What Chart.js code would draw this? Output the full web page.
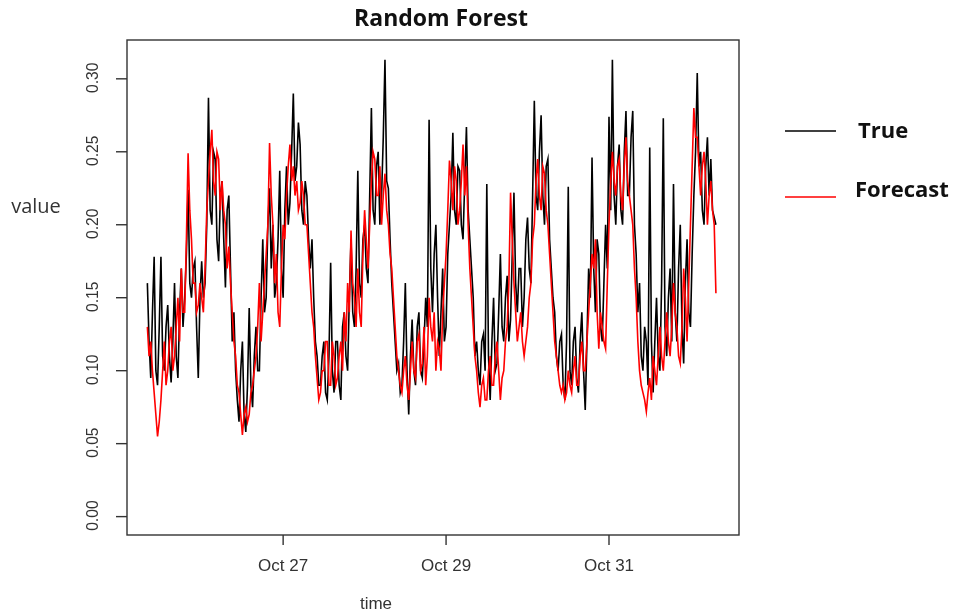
<!DOCTYPE html>
<html>
<head>
<meta charset="utf-8">
<script src="https://cdn.jsdelivr.net/npm/chart.js@4/dist/chart.umd.min.js"></script>
<style>
html,body{margin:0;padding:0;background:#fff;}
#wrap{width:957px;height:613px;position:relative;}
</style>
</head>
<body>
<div id="wrap"><canvas id="c" width="957" height="613"></canvas></div>
<script>
// readings every half hour, starting Oct 25 08:00 (x = hours since start)
const trueValues = [
0.16,0.12, 0.095,0.14, 0.178,0.10, 0.09,0.13, 0.178,0.11, 0.10,0.13, 0.145,0.11, 0.092,0.12, 0.16,0.11, 0.095,0.14,
0.17,0.13, 0.15,0.18, 0.224,0.16, 0.15,0.17, 0.175,0.13, 0.095,0.15, 0.175,0.15, 0.16,0.20, 0.287,0.21, 0.20,0.25,
0.245,0.19, 0.175,0.22, 0.23,0.19, 0.157,0.21, 0.22,0.17, 0.12,0.14, 0.10,0.08, 0.065,0.10, 0.12,0.07, 0.058,0.09,
0.143,0.09, 0.075,0.11, 0.13,0.10, 0.10,0.15, 0.19,0.14, 0.15,0.20, 0.225,0.17, 0.20,0.15, 0.16,0.19, 0.237,0.17,
0.15,0.21, 0.24,0.20, 0.215,0.25, 0.29,0.23, 0.24,0.27, 0.255,0.21, 0.20,0.23, 0.22,0.19, 0.17,0.19, 0.15,0.12,
0.11,0.09, 0.09,0.11, 0.12,0.085, 0.08,0.11, 0.174,0.10, 0.085,0.12, 0.12,0.09, 0.08,0.13, 0.14,0.11, 0.10,0.15,
0.19,0.14, 0.13,0.17, 0.237,0.16, 0.15,0.19, 0.20,0.17, 0.16,0.22, 0.28,0.21, 0.20,0.24, 0.25,0.20, 0.22,0.26,
0.313,0.23, 0.225,0.19, 0.16,0.14, 0.12,0.10, 0.105,0.085, 0.09,0.12, 0.16,0.10, 0.07,0.11, 0.135,0.10, 0.09,0.13,
0.14,0.10, 0.095,0.12, 0.15,0.13, 0.272,0.17, 0.14,0.18, 0.20,0.15, 0.11,0.14, 0.17,0.12, 0.13,0.18, 0.20,0.22,
0.263,0.21, 0.20,0.24, 0.237,0.20, 0.19,0.23, 0.267,0.21, 0.19,0.17, 0.15,0.11, 0.12,0.10, 0.09,0.12, 0.125,0.10,
0.228,0.11, 0.08,0.12, 0.15,0.10, 0.105,0.14, 0.18,0.13, 0.12,0.15, 0.165,0.12, 0.135,0.18, 0.222,0.16, 0.14,0.17,
0.17,0.13, 0.15,0.19, 0.205,0.17, 0.16,0.22, 0.285,0.22, 0.21,0.25, 0.275,0.22, 0.20,0.24, 0.245,0.19, 0.17,0.15,
0.14,0.11, 0.10,0.12, 0.125,0.09, 0.08,0.12, 0.226,0.10, 0.09,0.12, 0.13,0.095, 0.085,0.12, 0.14,0.10, 0.073,0.12,
0.17,0.15, 0.246,0.17, 0.14,0.19, 0.18,0.13, 0.12,0.16, 0.20,0.17, 0.274,0.21, 0.313,0.22, 0.20,0.24, 0.255,0.21,
0.20,0.25, 0.278,0.22, 0.22,0.26, 0.278,0.20, 0.18,0.14, 0.16,0.11, 0.10,0.13, 0.12,0.09, 0.253,0.12, 0.085,0.12,
0.15,0.11, 0.10,0.16, 0.273,0.13, 0.11,0.15, 0.17,0.12, 0.228,0.14, 0.12,0.17, 0.20,0.13, 0.105,0.16, 0.19,0.14,
0.13,0.18, 0.22,0.25, 0.304,0.24, 0.25,0.21, 0.20,0.24, 0.26,0.22, 0.245,0.21, 0.205,0.20
];
const forecastValues = [
0.13,0.11, 0.12,0.10, 0.085,0.07, 0.055,0.065, 0.08,0.10, 0.12,0.09, 0.10,0.12, 0.13,0.10, 0.11,0.13, 0.15,0.12,
0.17,0.14, 0.14,0.19, 0.249,0.21, 0.19,0.16, 0.16,0.14, 0.145,0.16, 0.15,0.14, 0.17,0.21, 0.23,0.25, 0.265,0.23,
0.22,0.25, 0.245,0.21, 0.23,0.21, 0.20,0.17, 0.185,0.16, 0.14,0.12, 0.11,0.09, 0.085,0.07, 0.056,0.07, 0.075,0.065,
0.07,0.085, 0.09,0.10, 0.11,0.13, 0.16,0.12, 0.14,0.16, 0.18,0.20, 0.256,0.22, 0.20,0.16, 0.18,0.14, 0.13,0.17,
0.20,0.19, 0.22,0.24, 0.255,0.23, 0.24,0.22, 0.23,0.21, 0.215,0.23, 0.22,0.20, 0.20,0.18, 0.16,0.14, 0.13,0.11,
0.095,0.08, 0.085,0.10, 0.10,0.12, 0.12,0.09, 0.09,0.12, 0.11,0.09, 0.095,0.11, 0.12,0.10, 0.14,0.12, 0.16,0.14,
0.196,0.16, 0.15,0.13, 0.17,0.14, 0.13,0.18, 0.21,0.19, 0.17,0.20, 0.23,0.25, 0.245,0.22, 0.22,0.24, 0.20,0.22,
0.235,0.21, 0.20,0.18, 0.17,0.15, 0.13,0.11, 0.10,0.09, 0.085,0.10, 0.11,0.09, 0.08,0.10, 0.12,0.10, 0.095,0.12,
0.125,0.10, 0.105,0.13, 0.09,0.11, 0.15,0.13, 0.12,0.14, 0.10,0.12, 0.115,0.10, 0.14,0.16, 0.18,0.21, 0.244,0.23,
0.21,0.24, 0.23,0.20, 0.21,0.23, 0.255,0.22, 0.24,0.20, 0.17,0.15, 0.13,0.11, 0.10,0.085, 0.075,0.09, 0.095,0.08,
0.08,0.10, 0.11,0.09, 0.09,0.11, 0.12,0.10, 0.08,0.095, 0.10,0.12, 0.13,0.16, 0.222,0.19, 0.16,0.14, 0.12,0.13,
0.14,0.12, 0.11,0.12, 0.13,0.15, 0.16,0.19, 0.20,0.23, 0.245,0.22, 0.21,0.24, 0.235,0.21, 0.20,0.18, 0.16,0.14,
0.12,0.11, 0.10,0.09, 0.085,0.09, 0.08,0.085, 0.10,0.09, 0.085,0.10, 0.11,0.09, 0.09,0.11, 0.12,0.10, 0.10,0.12,
0.14,0.16, 0.18,0.17, 0.19,0.14, 0.115,0.14, 0.13,0.12, 0.115,0.16, 0.20,0.23, 0.25,0.23, 0.22,0.24, 0.245,0.22,
0.21,0.24, 0.26,0.23, 0.22,0.21, 0.20,0.17, 0.15,0.12, 0.10,0.09, 0.085,0.08, 0.072,0.085, 0.095,0.08, 0.11,0.10,
0.09,0.11, 0.13,0.11, 0.10,0.12, 0.14,0.12, 0.11,0.13, 0.16,0.14, 0.13,0.11, 0.105,0.13, 0.17,0.15, 0.12,0.16,
0.20,0.24, 0.28,0.26, 0.26,0.24, 0.22,0.24, 0.25,0.23, 0.20,0.22, 0.23,0.21, 0.20,0.153
];
const stepHours = 0.5;
const yTickValues = [0, 0.05, 0.10, 0.15, 0.20, 0.25, 0.30];
const xTickHours = [40, 88, 136];
const xTickLabels = ['Oct 27', 'Oct 29', 'Oct 31'];
const seriesNames = ['True', 'Forecast'];
const seriesColors = ['#000000', '#ff0000'];

const mk = (vals) => vals.map((v, i) => ({x: i * stepHours, y: v}));

const decor = {
  id: 'decor',
  afterDraw(chart) {
    const ctx = chart.ctx, a = chart.chartArea;
    const xs = chart.scales.x, ys = chart.scales.y;
    ctx.save();
    ctx.strokeStyle = '#333';
    ctx.lineWidth = 1.4;
    ctx.strokeRect(a.left, a.top, a.right - a.left, a.bottom - a.top);
    // y ticks
    ctx.fillStyle = '#333';
    ctx.font = '17px "Liberation Sans", Arial, sans-serif';
    yTickValues.forEach(v => {
      const py = ys.getPixelForValue(v);
      ctx.beginPath(); ctx.moveTo(a.left - 11, py); ctx.lineTo(a.left, py); ctx.stroke();
      ctx.save();
      ctx.translate(a.left - 29, py - 1);
      ctx.rotate(-Math.PI / 2);
      ctx.scale(0.92, 1);
      ctx.textAlign = 'center'; ctx.textBaseline = 'alphabetic';
      ctx.fillText(v.toFixed(2), 0, 0);
      ctx.restore();
    });
    // x ticks
    ctx.textAlign = 'center'; ctx.textBaseline = 'middle';
    xTickHours.forEach((h, i) => {
      const px = xs.getPixelForValue(h);
      ctx.beginPath(); ctx.moveTo(px, a.bottom); ctx.lineTo(px, a.bottom + 10); ctx.stroke();
      ctx.fillText(xTickLabels[i], px, 566);
    });
    ctx.fillText('time', 376, 604);
    ctx.font = '20px "Open Sans", sans-serif';
    ctx.fillText('value', 36, 207);
    // title
    ctx.fillStyle = '#111';
    ctx.font = 'bold 23px "Open Sans", sans-serif';
    ctx.fillText('Random Forest', 441, 19);
    // legend
    const ly = [131, 197];
    const ty = [132, 191];
    seriesNames.forEach((n, i) => {
      ctx.strokeStyle = seriesColors[i];
      ctx.lineWidth = 1.4;
      ctx.beginPath(); ctx.moveTo(785, ly[i]); ctx.lineTo(836, ly[i]); ctx.stroke();
      ctx.fillStyle = '#111';
      ctx.textAlign = 'left';
      ctx.font = 'bold 22px "Open Sans", sans-serif';
      ctx.fillText(n, i === 0 ? 858 : 855, ty[i]);
    });
    ctx.restore();
  }
};

new Chart(document.getElementById('c'), {
  type: 'line',
  data: {
    datasets: [
      {label: seriesNames[0], data: mk(trueValues), borderColor: seriesColors[0], borderWidth: 1.6, pointRadius: 0, tension: 0, order: 1},
      {label: seriesNames[1], data: mk(forecastValues), borderColor: seriesColors[1], borderWidth: 1.6, pointRadius: 0, tension: 0, order: 0}
    ]
  },
  options: {
    responsive: false,
    animation: false,
    layout: {padding: {left: 127, top: 40, right: 218, bottom: 78}},
    plugins: {legend: {display: false}, tooltip: {enabled: false}, title: {display: false}},
    scales: {
      x: {type: 'linear', display: false, min: -6, max: 174.3},
      y: {type: 'linear', display: false, min: -0.0126, max: 0.3266}
    }
  },
  plugins: [decor]
});
</script>
</body>
</html>
